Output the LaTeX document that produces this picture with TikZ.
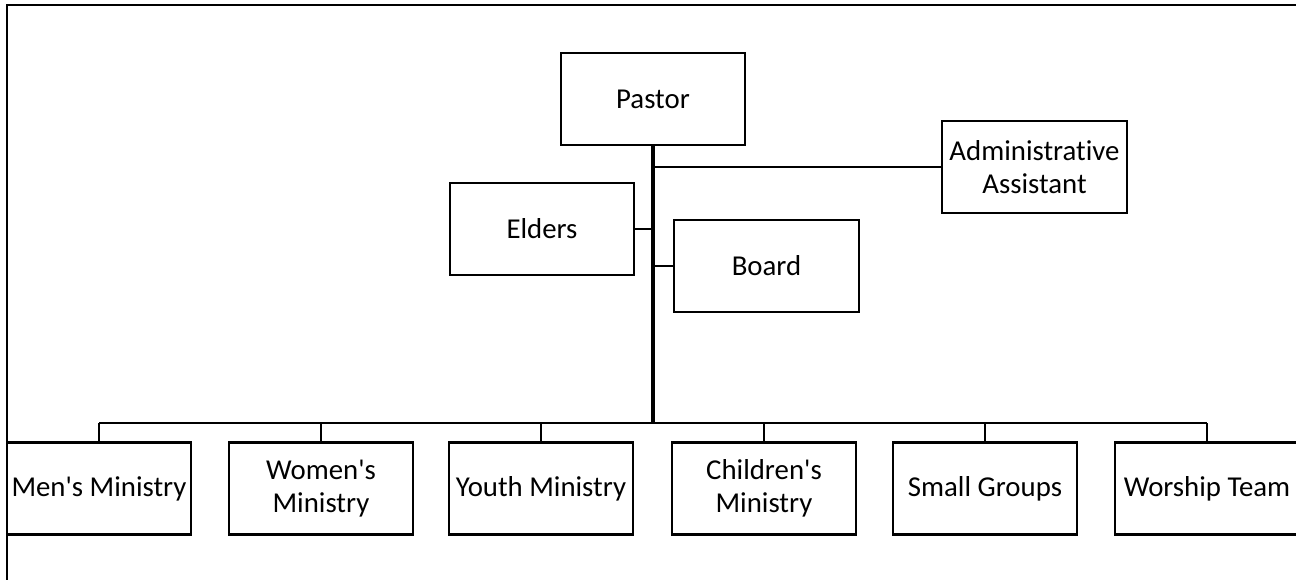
\documentclass[tikz,border=0pt]{standalone}
\usepackage{fontspec}
\setmainfont{Carlito}[Ligatures={TeXOff,CommonOff}]
\begin{document}
\begin{tikzpicture}[x=1pt,y=-1pt,
  orgbox/.style={draw=black,line width=2.6pt,fill=white,minimum width=184pt,minimum height=92pt,
    inner sep=0pt,align=center,font=\fontsize{28.8}{33}\selectfont},
  thinlink/.style={draw=black,line width=2.4pt},
  trunk/.style={draw=black,line width=3.8pt}]
\useasboundingbox (0,0) rectangle (1296,579);
\fill[white] (0,0) rectangle (1296,579);
% frame
\draw[line width=2pt] (7,600) -- (7,5) -- (1320,5);
% nodes
\node[orgbox] (pastor) at (653,99) {Pastor};
\node[orgbox,minimum width=185pt] (admin) at (1034.5,167) {Administrative\\Assistant};
\node[orgbox] (elders) at (542,229) {Elders};
\node[orgbox,minimum width=185pt] (board) at (766.5,266) {Board};
\coordinate (bus) at (653,423);
\node[orgbox] (men) at (99,488.5) {Men's Ministry};
\node[orgbox] (women) at (321,488.5) {Women's\\Ministry};
\node[orgbox] (youth) at (541,488.5) {Youth Ministry};
\node[orgbox] (children) at (764,488.5) {Children's\\Ministry};
\node[orgbox] (small) at (985,488.5) {Small Groups};
\node[orgbox] (worship) at (1207,488.5) {Worship Team};
% connectors
\draw[thinlink] (admin.west) -- (admin.west -| pastor.south);
\draw[thinlink] (elders.east) -- (elders.east -| pastor.south);
\draw[thinlink] (board.west) -- (board.west -| pastor.south);
\draw[thinlink] (men.north |- bus) -- (worship.north |- bus);
\foreach \n in {men,women,youth,children,small,worship}
  \draw[thinlink] (\n.north) -- (\n.north |- bus);
\draw[trunk] (pastor.south) -- (bus);
\end{tikzpicture}
\end{document}
